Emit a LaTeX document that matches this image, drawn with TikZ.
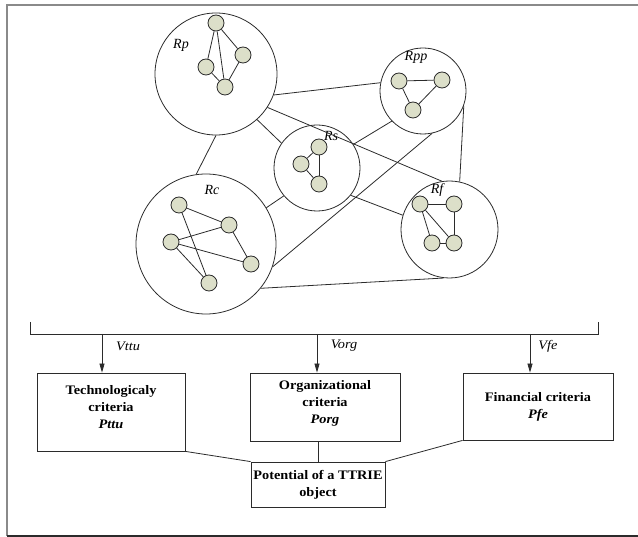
\documentclass[tikz,border=0pt]{standalone}
\usepackage{fontspec}
\setmainfont{Liberation Serif}
\newfontfamily\boxfont[FakeStretch=1.1]{Liberation Serif}
\usetikzlibrary{arrows.meta, positioning, calc}
\definecolor{dotfill}{HTML}{DCDFC9}
\definecolor{linegray}{HTML}{2B2B2B}
\definecolor{framegray}{HTML}{8A8A8A}

\begin{document}
\begin{tikzpicture}[x=1pt, y=-1pt,
  region/.style={circle, draw=linegray, thick, inner sep=0pt},
  dot/.style={circle, draw=linegray, fill=dotfill, thick, minimum size=16pt, inner sep=0pt},
  reglabel/.style={font=\fontsize{14}{14}\selectfont\itshape, inner sep=0pt},
  crit/.style={rectangle, draw=linegray, thick, align=center, inner sep=2pt, font=\boxfont\fontsize{13}{17}\selectfont\bfseries},
  vlabel/.style={font=\boxfont\fontsize{13}{13}\selectfont\itshape, inner sep=0pt},
  link/.style={linegray, thick},
  arr/.style={-{Triangle[width=5pt, length=9pt]}, thick, linegray},
]
  \useasboundingbox (0,0) rectangle (638,537);

  % Frame
  \draw[framegray, line width=1.5pt] (638,5) -- (7,5) -- (7,536);
  \draw[linegray, line width=1.5pt] (7,536) -- (638,536);

  % Regions
  \node[region, minimum size=122pt] (Rp) at (216,74) {};
  \node[region, minimum size=86pt] (Rpp) at (423,91) {};
  \node[region, minimum size=86pt] (Rs) at (317,168) {};
  \node[region, minimum size=140pt] (Rc) at (206,244) {};
  \node[region, minimum size=97pt] (Rf) at (449.5,229.5) {};

  \node[reglabel] (lRp) at (181,45) {Rp};
  \node[reglabel] (lRpp) at (416,57) {Rpp};
  \node[reglabel] (lRs) at (331,136) {Rs};
  \node[reglabel] (lRc) at (212,190) {Rc};
  \node[reglabel] (lRf) at (437,190) {Rf};

  % Links between regions
  \draw[link] (Rp.-20) -- (Rpp.169);
  \draw[link] (Rp.-33) -- (Rf.99);
  \draw[link] (Rp.-48) -- (Rs.145);
  \draw[link] (Rp.-90) -- (Rc.98);
  \draw[link] (Rpp.-136) -- (Rs.33);
  \draw[link] (Rpp.-78) -- (Rc.-19);
  \draw[link] (Rpp.-20) -- (Rf.78);
  \draw[link] (Rs.-140) -- (Rc.31);
  \draw[link] (Rs.-39) -- (Rf.163);
  \draw[link] (Rc.-39) -- (Rf.-97);

  % Rp
  \node[dot] (p1) at (216,23) {};
  \node[dot] (p2) at (206,67) {};
  \node[dot] (p3) at (243,55) {};
  \node[dot] (p4) at (225,87) {};
  \draw[link] (p1) -- (p2);
  \draw[link] (p1) -- (p4);
  \draw[link] (p1) -- (p3);
  \draw[link] (p2) -- (p4);
  \draw[link] (p3) -- (p4);

  % Rpp
  \node[dot] (q1) at (399,81) {};
  \node[dot] (q2) at (442,80) {};
  \node[dot] (q3) at (413,110) {};
  \draw[link] (q1) -- (q2);
  \draw[link] (q2) -- (q3);
  \draw[link] (q1) -- (q3);

  % Rs
  \node[dot] (s1) at (319,147) {};
  \node[dot] (s2) at (301,164) {};
  \node[dot] (s3) at (319,184) {};
  \draw[link] (s1) -- (s2);
  \draw[link] (s1) -- (s3);
  \draw[link] (s2) -- (s3);

  % Rc
  \node[dot] (c1) at (179,205) {};
  \node[dot] (c2) at (229,225) {};
  \node[dot] (c3) at (171,242) {};
  \node[dot] (c4) at (251,264) {};
  \node[dot] (c5) at (209,283) {};
  \draw[link] (c1) -- (c2);
  \draw[link] (c1) -- (c5);
  \draw[link] (c3) -- (c2);
  \draw[link] (c3) -- (c4);
  \draw[link] (c3) -- (c5);
  \draw[link] (c2) -- (c4);

  % Rf
  \node[dot] (f1) at (420,204) {};
  \node[dot] (f2) at (454,204) {};
  \node[dot] (f3) at (432,243) {};
  \node[dot] (f4) at (454,243) {};
  \draw[link] (f1) -- (f2);
  \draw[link] (f2) -- (f4);
  \draw[link] (f3) -- (f4);
  \draw[link] (f1) -- (f3);
  \draw[link] (f1) -- (f4);

  % Bracket and criteria
  \coordinate (bl) at (30,322);
  \coordinate (br) at (598,322);
  \coordinate (v1) at (102,334);
  \coordinate (v2) at (317,334);
  \coordinate (v3) at (530,334);
  \draw[link] (bl) -- (bl |- v1) -- (br |- v1) -- (br);

  \node[crit, minimum width=148pt, minimum height=78pt] (tech) at (111,412) {Technologicaly\\criteria\\\textit{Pttu}\\[-7pt]\mbox{}};
  \node[crit, minimum width=150pt, minimum height=68pt] (org) at (325,407) {Organizational\\criteria\\\textit{Porg}\\[-7pt]\mbox{}};
  \node[crit, minimum width=150pt, minimum height=67pt] (fin) at (538,406.5) {Financial criteria\\\textit{Pfe}};
  \node[crit, minimum width=134pt, minimum height=45pt] (pot) at (318,484.5) {Potential of a TTRIE\\object};

  \draw[arr] (v1) -- (v1 |- tech.north);
  \draw[arr] (v2) -- (v2 |- org.north);
  \draw[arr] (v3) -- (v3 |- fin.north);

  \node[vlabel] (lv1) at (128,346) {Vttu};
  \node[vlabel] (lv2) at (344,346) {Vorg};
  \node[vlabel] (lv3) at (548,346) {Vfe};

  \draw[link] (tech.south east) -- (pot.north west);
  \draw[link] (org.south -| pot.north) -- (pot.north);
  \draw[link] (fin.south west) -- (pot.north east);
\end{tikzpicture}
\end{document}
